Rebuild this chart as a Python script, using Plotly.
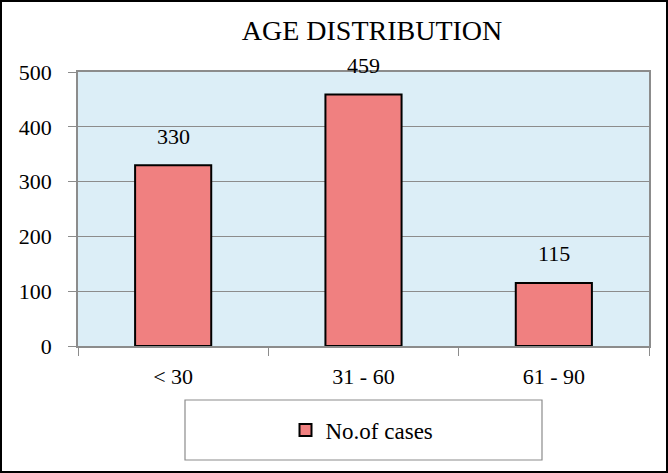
import plotly.graph_objects as go

categories = ["< 30", "31 - 60", "61 - 90"]
cases = [330, 459, 115]
series_name = "No.of cases"
title_text = "AGE DISTRIBUTION"
y_ticks = [0, 100, 200, 300, 400, 500]

FONT = "Liberation Serif, Times New Roman, serif"
W, H = 668, 473
L, R, T, B = 78, 19, 72, 127
pw, ph = W - L - R, H - T - B

def px(x):
    return (x - L) / pw

def py(y):
    return (H - B - y) / ph

fig = go.Figure()
fig.add_trace(go.Bar(
    x=categories, y=cases, name=series_name,
    marker=dict(color="#F08080", line=dict(color="#000000", width=2)),
    width=0.4, showlegend=True,
))

for c, v in zip(categories, cases):
    fig.add_annotation(x=c, y=v, text=str(v), showarrow=False, yshift=29,
                       font=dict(family=FONT, size=22, color="#000"))

fig.update_layout(
    width=W, height=H,
    margin=dict(l=L, r=R, t=T, b=B),
    paper_bgcolor="white", plot_bgcolor="#DCEEF7",
    font=dict(family=FONT, size=22, color="#000"),
    title=dict(text=title_text, x=(372) / W, xanchor="center", y=1 - 30 / H, yanchor="middle",
               font=dict(family=FONT, size=28, color="#000")),
    xaxis=dict(showline=True, linecolor="#8c8c8c", linewidth=1.5, mirror=True,
               ticks="outside", tickson="boundaries", ticklen=8, tickcolor="#8c8c8c",
               ticklabelstandoff=10, showgrid=False, fixedrange=True,
               tickfont=dict(family=FONT, size=22, color="#000")),
    yaxis=dict(range=[0, 500], tickvals=y_ticks, showline=True, linecolor="#8c8c8c",
               linewidth=1.5, mirror=True, ticks="outside", ticklen=8, tickcolor="#8c8c8c",
               ticklabelstandoff=12, showgrid=True, gridcolor="#8c8c8c", gridwidth=1,
               zeroline=False, fixedrange=True,
               tickfont=dict(family=FONT, size=22, color="#000")),
    showlegend=True,
    legend=dict(x=px(362), y=py(430), xanchor="center", yanchor="middle",
                bgcolor="rgba(0,0,0,0)", borderwidth=0,
                font=dict(family=FONT, size=23, color="#000")),
    shapes=[
        dict(type="rect", xref="paper", yref="paper", x0=px(185), x1=px(542),
             y0=py(460), y1=py(400), line=dict(color="#8c8c8c", width=1.2),
             fillcolor="rgba(0,0,0,0)"),
        dict(type="rect", xref="paper", yref="paper", x0=px(1), x1=px(667),
             y0=py(472), y1=py(1), line=dict(color="#000000", width=2),
             fillcolor="rgba(0,0,0,0)"),
    ],
)

fig.write_html("out.html", config={"displayModeBar": False},
               post_script="document.body.style.margin='0';")
